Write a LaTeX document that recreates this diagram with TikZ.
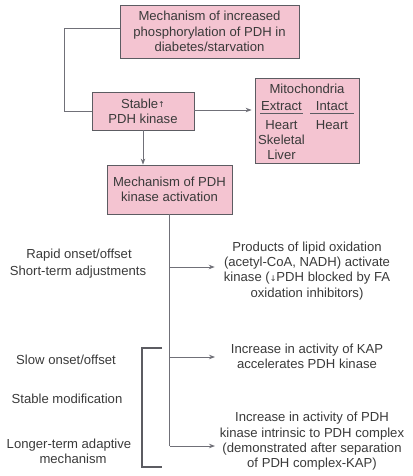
\documentclass[tikz,border=0pt]{standalone}
\usepackage{fontspec}
\setmainfont{Liberation Sans}
\newfontfamily\arrowfont{DejaVu Sans}
\usetikzlibrary{arrows.meta}
\definecolor{boxpink}{HTML}{F4C4D1}
\definecolor{edgegray}{HTML}{5C5C62}
\definecolor{linegray}{HTML}{707078}
\definecolor{inkgray}{HTML}{3A3A3A}
\newcommand{\uparr}{\raisebox{1pt}{\arrowfont\footnotesize ↑}}
\newcommand{\downarr}{{\arrowfont\footnotesize ↓}}

\begin{document}
\begin{tikzpicture}[x=1pt,y=-1pt,
  font=\fontsize{13.1}{15.3}\selectfont, text=inkgray,
  pinkbox/.style={draw=edgegray,line width=0.8pt,fill=boxpink,align=center,inner sep=0pt},
  plain/.style={align=center,inner sep=0pt},
  conn/.style={draw=linegray,line width=0.9pt},
  arr/.style={conn,-{Stealth[length=6pt,width=4.5pt]}}]
\useasboundingbox (0,0) rectangle (412,476);

\node[pinkbox,minimum width=179pt,minimum height=53pt] (top) at (209.5,31.5) {Mechanism of increased\\phosphorylation of PDH in\\diabetes/starvation};
\node[pinkbox,minimum width=102pt,minimum height=38pt] (stable) at (143,111) {Stable\uparr\\PDH kinase};
\node[pinkbox,minimum width=104pt,minimum height=85pt] (mito) at (307,120.5) {};
\node[pinkbox,minimum width=125pt,minimum height=49pt] (act) at (169.5,189.5) {Mechanism of PDH\\kinase activation};

\node[plain,anchor=base] (mitohead) at (307,94) {Mitochondria};
\node[plain,anchor=base] (extract) at (281.5,110.5) {Extract};
\node[plain,anchor=base] (intact) at (332,110.5) {Intact};
\node[plain,anchor=base] (heartx) at (281.5,129) {Heart};
\node[plain,anchor=base] (skeletal) at (281.5,144) {Skeletal};
\node[plain,anchor=base] (liver) at (281.5,159) {Liver};
\node[plain,anchor=base] (hearti) at (332,129) {Heart};
\draw[edgegray,line width=0.8pt] (260,113.5) -- (303,113.5);
\draw[edgegray,line width=0.8pt] (310,113.5) -- (354,113.5);

\node[plain] (lipid) at (307,270.7) {Products of lipid oxidation\\(acetyl-CoA, NADH) activate\\kinase (\downarr PDH blocked by FA\\oxidation inhibitors)};
\node[plain] (kap) at (307,356.2) {Increase in activity of KAP\\accelerates PDH kinase};
\node[plain] (intrinsic) at (312,441.5) {Increase in activity of PDH\\kinase intrinsic to PDH complex\\(demonstrated after separation\\of PDH complex-KAP)};

\node[plain,anchor=base] (rapid) at (79,258) {Rapid onset/offset};
\node[plain,anchor=base] (shortterm) at (78,275) {Short-term adjustments};
\node[plain,anchor=base] (slow) at (66,364.5) {Slow onset/offset};
\node[plain,anchor=base] (stablemod) at (67,403.5) {Stable modification};
\node[plain,anchor=base] (longer) at (69,448) {Longer-term adaptive};
\node[plain,anchor=base] (mechanism) at (73,463) {mechanism};

\coordinate (elbow) at (64,0);
\coordinate (lvl1) at (0,267);
\coordinate (lvl2) at (0,357);
\coordinate (lvl3) at (0,446);
\coordinate (fork1) at (act.south |- lvl1);
\coordinate (fork2) at (act.south |- lvl2);
\coordinate (fork3) at (act.south |- lvl3);

\draw[conn] ([yshift=3.5pt]top.west) -- ([yshift=3.5pt]top.west -| elbow) |- (stable.west);
\draw[arr,shorten >=3pt] ([yshift=1pt]stable.east) -- ([yshift=1pt]stable.east -| mito.west);
\draw[arr] (stable.south) -- (stable.south |- act.north);
\draw[conn] (act.south) -- (fork3);
\draw[arr,shorten >=9pt] (fork1) -- (fork1 -| lipid.west);
\draw[arr] (fork2) -- (215,357);
\draw[arr] (fork3) -- (215,446);

\draw[edgegray,line width=1.1pt] (162,348) -| (142,467) -- (162,467);
\end{tikzpicture}
\end{document}
